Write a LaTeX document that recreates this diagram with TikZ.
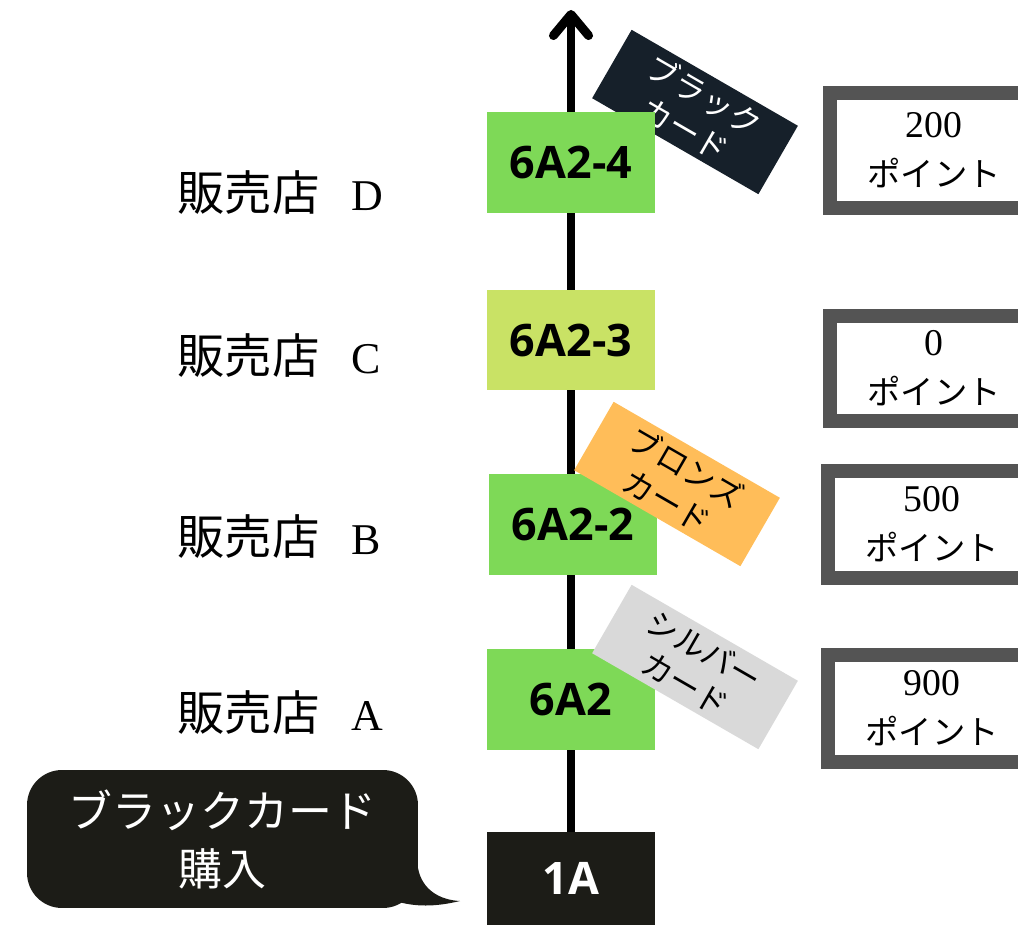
\documentclass[tikz,border=0pt]{standalone}
\usepackage{fontspec}
\setmainfont{Liberation Serif}
\newfontfamily\jpfont{Noto Sans CJK JP}
\newfontfamily\codefont{Open Sans}
\usetikzlibrary{arrows.meta,backgrounds}

\definecolor{stagegreen}{HTML}{7ED957}
\definecolor{stagelime}{HTML}{C9E265}
\definecolor{stageblack}{HTML}{1C1C17}
\definecolor{cardblack}{HTML}{16202A}
\definecolor{cardbronze}{HTML}{FFBD59}
\definecolor{cardsilver}{HTML}{D9D9D9}
\definecolor{pointgray}{HTML}{545454}

\newcommand{\storename}[1]{{\jpfont\fontsize{27}{30}\selectfont 販売店}\hspace{18pt}#1}
\newcommand{\pointtext}[1]{{\fontsize{21.5}{28}\selectfont #1}\\{\jpfont ポイント}}

\tikzset{
  card/.style={rotate=-30,minimum width=3.84cm,minimum height=1.58cm,align=center,inner sep=0pt,
    font=\jpfont\fontsize{18}{22}\selectfont},
  pointbox/.style={draw=pointgray,line width=7.9pt,fill=white,minimum width=4.16cm,align=center,inner sep=0pt,
    font=\fontsize{19}{28}\selectfont},
  storelabel/.style={anchor=west,inner sep=0pt,font=\fontsize{25}{30}\selectfont}
}

\begin{document}
\begin{tikzpicture}[x=0.02cm,y=-0.02cm]
\useasboundingbox (0,0) rectangle (1018,926);
\clip (0,0) rectangle (1018,926);

\coordinate (tip) at (571,10);
\coordinate (tailtip) at (460,901);

\node[card,fill=cardblack,text=white] (cblack) at (695,112) {ブラック\\カード};

\begin{scope}[every node/.style={minimum width=3.36cm,minimum height=2.02cm,inner sep=0pt,
    font=\codefont\bfseries\fontsize{25.5}{30}\selectfont}]
	\node[fill=stagegreen] (s4) at (571,162.5) {6A2-4};
	\node[fill=stagelime] (s3) at (571,340) {6A2-3};
	\node[fill=stagegreen] (s2) at (573,524.5) {6A2-2};
	\node[fill=stagegreen] (s1) at (571,699.5) {6A2};
	\node[fill=stageblack,text=white,minimum height=1.86cm] (s0) at (571,878.5) {1A};
\end{scope}

\node[card,fill=cardbronze] (cbronze) at (677,484) {ブロンズ\\カード};
\node[card,fill=cardsilver] (csilver) at (695,667) {シルバー\\カード};

\begin{scope}[on background layer]
	\draw[line width=5.1pt,-{Straight Barb[length=12pt,width=20pt,round]}] (s0.north) -- (tip);
\end{scope}

\node[storelabel] (ld) at (177,193) {\storename{D}};
\node[storelabel] (lc) at (177,356) {\storename{C}};
\node[storelabel] (lb) at (177,537) {\storename{B}};
\node[storelabel] (la) at (177,713) {\storename{A}};

\node[pointbox,minimum height=2.3cm] (p4) at (934,150.5) {\pointtext{200}};
\node[pointbox,minimum height=2.1cm] (p3) at (934,368.5) {\pointtext{0}};
\node[pointbox,minimum height=2.14cm] (p2) at (932,524.5) {\pointtext{500}};
\node[pointbox,minimum height=2.14cm] (p1) at (932,708.5) {\pointtext{900}};

\node[fill=stageblack,rounded corners=0.7cm,minimum width=7.82cm,minimum height=2.76cm,text=white,align=center,
  inner sep=0pt,font=\jpfont\fontsize{25}{33}\selectfont] (bubble) at (222.5,839) {ブラックカード\\購入};
\fill[stageblack] (400,880) -- (418,868) .. controls (422,890) and (440,900) .. (tailtip)
  .. controls (435,907) and (415,907) .. (395,901) -- cycle;

\end{tikzpicture}
\end{document}
